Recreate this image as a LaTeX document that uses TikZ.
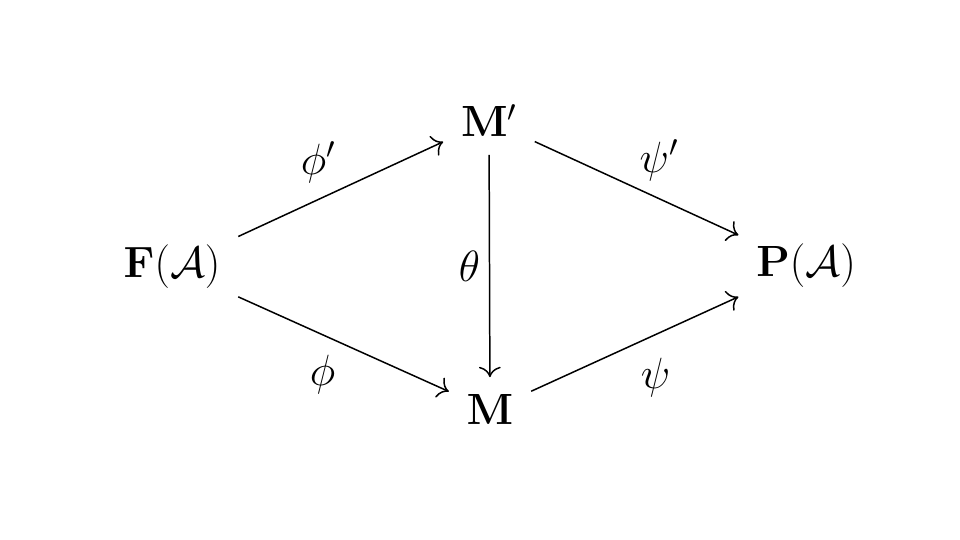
\documentclass[tikz,border=0pt]{standalone}
\usepackage{amsmath}
\usetikzlibrary{arrows.meta}
\begin{document}
\begin{tikzpicture}[
    obj/.style={inner sep=0.35cm, anchor=base, font=\fontsize{23}{28}\selectfont},
    lbl/.style={inner sep=0pt, font=\fontsize{23}{28}\selectfont},
    map/.style={-{To[scale=1.7]}, line width=0.85pt}]
        \useasboundingbox (0,0) rectangle (19.2,10.8);
        % Objects of the diagram
        \node[obj] (fa) at (3.44,5.24) {$\mathbf{F}(\mathcal{A})$};
        \node[obj] (mp) at (9.78,8.06) {$\mathbf{M}'$};
        \node[obj] (m)  at (9.80,2.30) {$\mathbf{M}$};
        \node[obj] (pa) at (16.12,5.26) {$\mathbf{P}(\mathcal{A})$};
        % Maps
        \draw[map] (fa) -- node[lbl, pos=.39, yshift=0.75cm] {$\phi'$} (mp);
        \draw[map] (fa) -- node[lbl, pos=.40, yshift=-0.79cm] {$\phi$} (m);
        \draw[map] (mp) -- node[lbl, midway, xshift=-0.4cm] {$\theta$} (m);
        \draw[map] (mp) -- node[lbl, pos=.61, yshift=0.76cm] {$\psi'$} (pa);
        \draw[map] (m) -- node[lbl, pos=.60, yshift=-0.85cm] {$\psi$} (pa);
    \end{tikzpicture}
\end{document}
